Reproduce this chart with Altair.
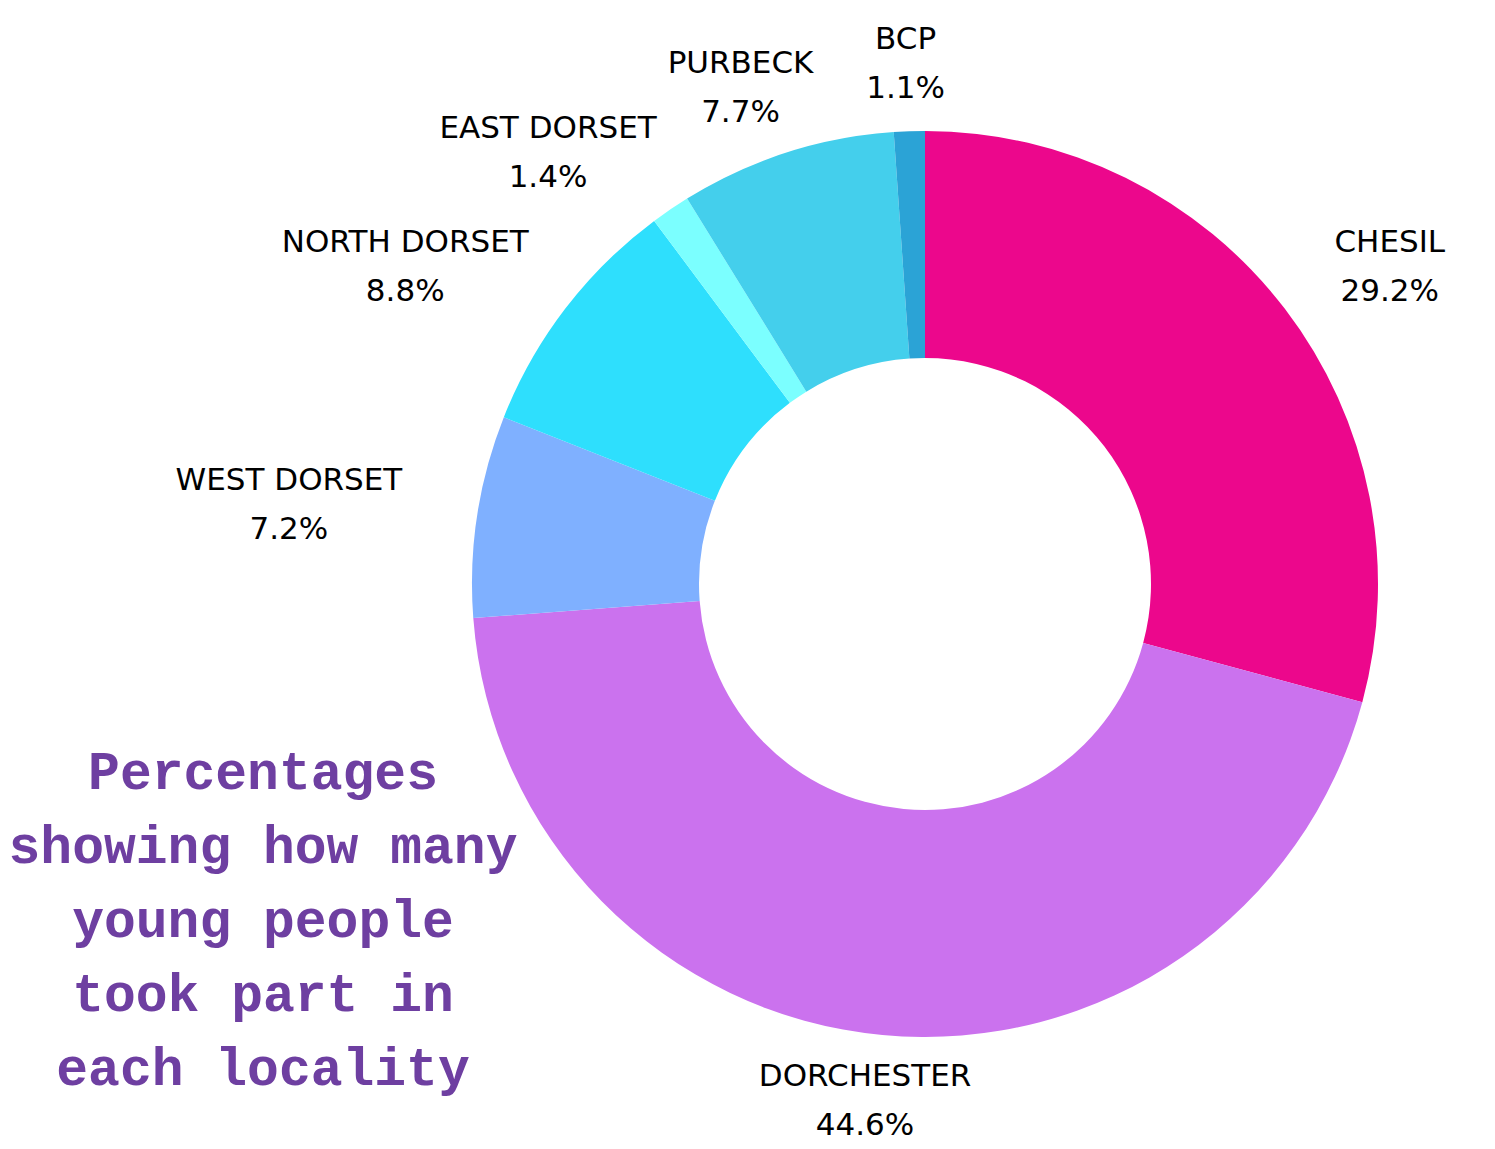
import math
import altair as alt
import pandas as pd

# ---- data ----
localities = ["CHESIL", "DORCHESTER", "WEST DORSET", "NORTH DORSET", "EAST DORSET", "PURBECK", "BCP"]
percentages = [29.2, 44.6, 7.2, 8.8, 1.4, 7.7, 1.1]
colors = ["#EC078C", "#CB72EE", "#7FB0FF", "#2EDFFD", "#7BFFFF", "#44CFEC", "#2BA3D6"]
title_lines = ["Percentages", "showing how many", "young people", "took part in", "each locality"]

# ---- layout constants ----
W, H = 1495, 1149
CX, CY = 925, 584
R_OUT, R_IN = 453, 226
LABEL_FONT = "DejaVu Sans"
LABEL_SIZE = 31
LINE_H = 49
BLOCK_H = 76
RA_X, RA_Y = 530, 482  # label anchor distances (horizontal / vertical)

# approximate DejaVu Sans advance widths (em)
ADV = {"A": .684, "B": .686, "C": .698, "D": .770, "E": .632, "H": .752, "I": .295,
       "K": .656, "L": .557, "N": .748, "O": .787, "P": .603, "R": .695, "S": .635,
       "T": .611, "U": .732, "W": .989, " ": .318}


def text_w(s):
    return sum(ADV.get(c, .65) for c in s) * LABEL_SIZE


total = sum(percentages)
rows = []
cum = 0.0
for i, (name, v) in enumerate(zip(localities, percentages)):
    mid = (cum + v / 2) / total * 2 * math.pi
    cum += v
    rows.append({"idx": i, "name": name, "value": v, "mid": mid, "w": text_w(name)})


def overlap(a, b, pad=10):
    return (abs(a[0] - b[0]) < (a[2] + b[2]) / 2 + pad and
            abs(a[1] - b[1]) < (a[3] + b[3]) / 2 + pad)


# place labels outside the ring; walk counter-clockwise from the top and
# push a label outward horizontally if it collides with an already placed one
placed = []
order = sorted(range(len(rows)), key=lambda k: -rows[k]["mid"])
for k in order:
    row = rows[k]
    s, c = math.sin(row["mid"]), math.cos(row["mid"])
    bx = CX + s * (RA_X + row["w"] / 2)
    by = CY - c * (RA_Y + BLOCK_H / 2)
    step = 1 if s >= 0 else -1
    while any(overlap((bx, by, row["w"], BLOCK_H), p) for p in placed):
        bx += step
    placed.append((bx, by, row["w"], BLOCK_H))
    row["lx"] = bx
    row["ly"] = by - LINE_H / 2  # position of the first of two lines
    row["label"] = f"{row['name']}\n{row['value']:.1f}%"

df = pd.DataFrame(rows)

arcs = alt.Chart(df).mark_arc(radius=R_OUT, radius2=R_IN).encode(
    theta=alt.Theta("value:Q", stack=True),
    order=alt.Order("idx:Q"),
    color=alt.Color("name:N", scale=alt.Scale(domain=localities, range=colors), legend=None),
    x=alt.value(CX),
    y=alt.value(CY),
)

labels = alt.Chart(df).mark_text(
    font=LABEL_FONT, fontSize=LABEL_SIZE, color="#000000", align="center",
    baseline="middle", lineBreak="\n", lineHeight=LINE_H,
).encode(
    x=alt.X("lx:Q", scale=None),
    y=alt.Y("ly:Q", scale=None),
    text="label:N",
)

title_df = pd.DataFrame({"t": ["\n".join(title_lines)]})
title = alt.Chart(title_df).mark_text(
    font="Liberation Mono", fontWeight="bold", fontSize=53, color="#6E3FA1",
    align="center", baseline="middle", lineBreak="\n", lineHeight=74,
).encode(
    x=alt.value(263), y=alt.value(773), text="t:N",
)

chart = alt.layer(arcs, labels, title).properties(
    width=W, height=H, autosize=alt.AutoSizeParams(type="none"), padding=0,
).configure_view(stroke=None)

chart.save("out.html", embed_options={"renderer": "svg", "actions": False})
